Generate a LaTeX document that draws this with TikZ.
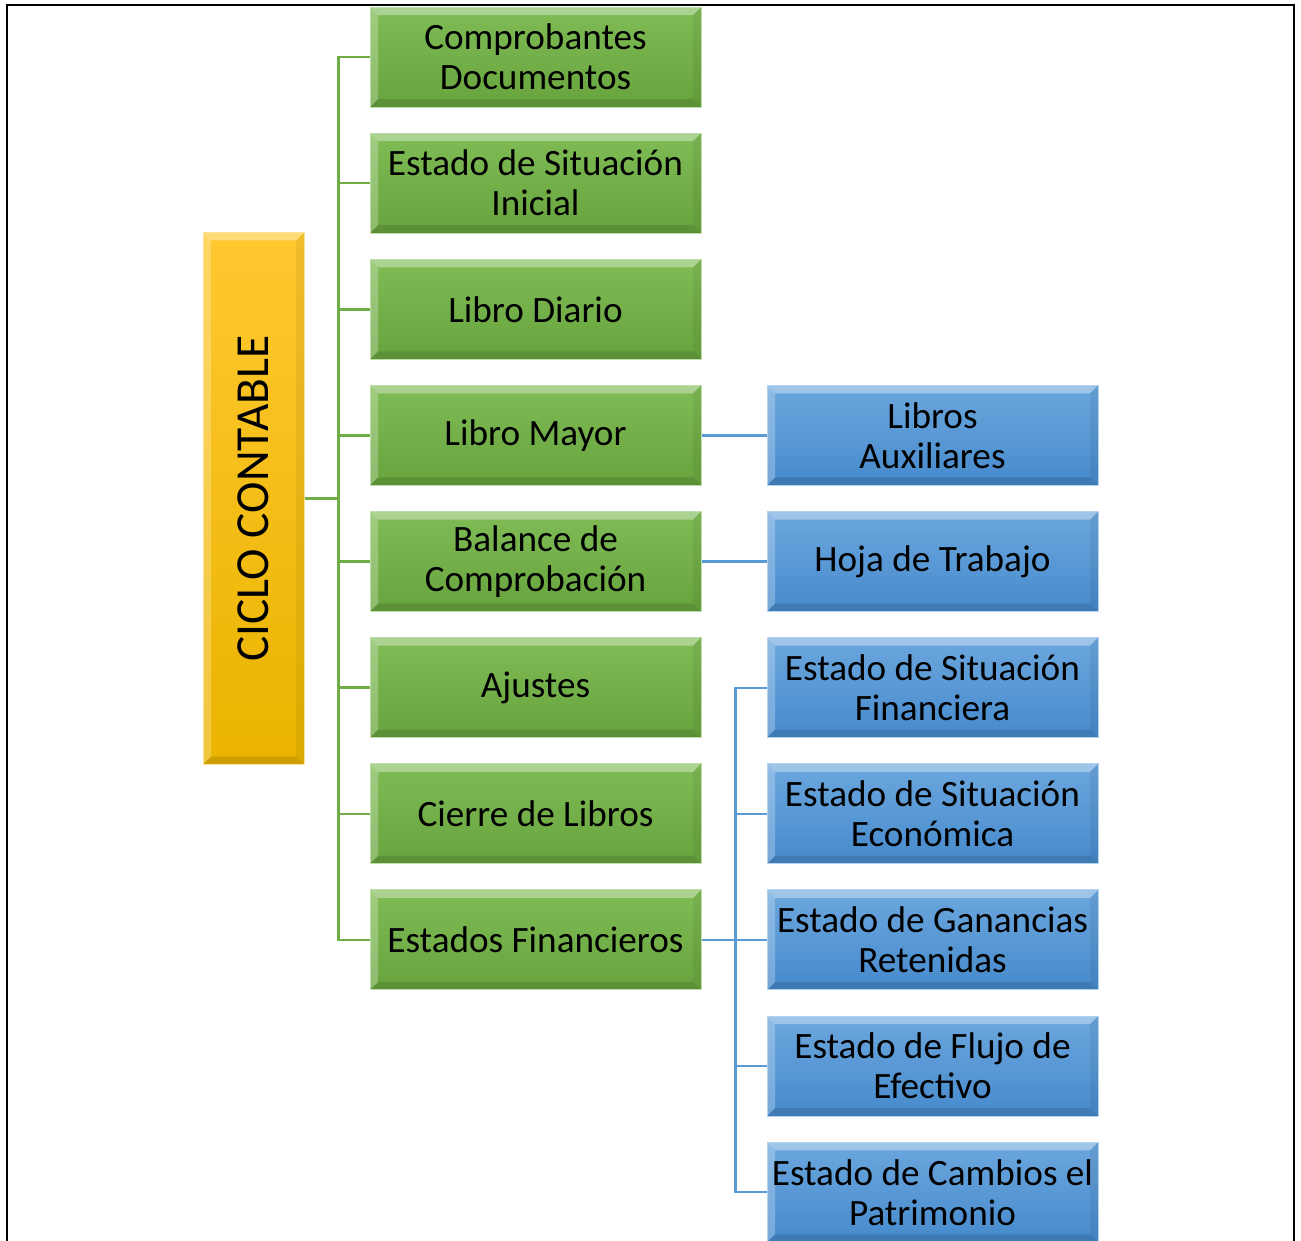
\documentclass[tikz,border=0pt]{standalone}
\usepackage{fontspec}
\setmainfont{Carlito}
\usepackage{xcolor}
\usepackage{tikz}

\definecolor{grtop}{RGB}{128,188,86}
\definecolor{grbot}{RGB}{104,164,62}
\definecolor{grline}{RGB}{112,173,71}
\definecolor{bltop}{RGB}{108,167,222}
\definecolor{blbot}{RGB}{70,138,204}
\definecolor{blline}{RGB}{91,155,213}
\definecolor{yetop}{RGB}{255,200,48}
\definecolor{yebot}{RGB}{234,180,0}

\tikzset{
  bevel/.style={path picture={
    \fill[white,opacity=.35] (path picture bounding box.north west) -- (path picture bounding box.north east)
      -- ([shift={(-4pt,-4pt)}]path picture bounding box.north east) -- ([shift={(4pt,-4pt)}]path picture bounding box.north west) -- cycle;
    \fill[white,opacity=.25] (path picture bounding box.north west) -- (path picture bounding box.south west)
      -- ([shift={(4pt,4pt)}]path picture bounding box.south west) -- ([shift={(4pt,-4pt)}]path picture bounding box.north west) -- cycle;
    \fill[black,opacity=.12] (path picture bounding box.south west) -- (path picture bounding box.south east)
      -- ([shift={(-4pt,4pt)}]path picture bounding box.south east) -- ([shift={(4pt,4pt)}]path picture bounding box.south west) -- cycle;
    \fill[black,opacity=.06] (path picture bounding box.north east) -- (path picture bounding box.south east)
      -- ([shift={(-4pt,4pt)}]path picture bounding box.south east) -- ([shift={(-4pt,-4pt)}]path picture bounding box.north east) -- cycle;
  }},
  box/.style={rectangle, bevel, minimum width=165.5pt, minimum height=50pt, inner sep=0pt,
    align=center, text=black, font=\fontsize{18.6}{20}\selectfont},
  grbox/.style={box, top color=grtop, bottom color=grbot, draw=grtop!50!white, line width=.5pt},
  blbox/.style={box, top color=bltop, bottom color=blbot, draw=bltop!50!white, line width=.5pt},
  rootbox/.style={rectangle, bevel, minimum width=50.5pt, minimum height=266pt, inner sep=0pt,
    top color=yetop, bottom color=yebot, draw=yetop!50!white, line width=.5pt,
    text=black, font=\fontsize{23.7}{25}\selectfont}
}

\begin{document}
\begin{tikzpicture}[
  x=0.5pt, y=0.5pt,
  grow'=right,
  edge from parent path={(\tikzparentnode.east) -- ++(17pt,0) |- (\tikzchildnode.west)},
  level 1/.style={level distance=141pt, sibling distance=63.07pt,
    edge from parent/.style={draw=grline, line width=1.25pt}},
  level 2/.style={level distance=198.5pt, sibling distance=63.07pt,
    edge from parent/.style={draw=blline, line width=1.1pt}}
  ]
  \useasboundingbox (0,0) rectangle (1301,-1241);
  \draw[line width=1.25pt] (7,-1245) |- (1294,-5) -- (1294,-1245);

  \node[rootbox] (ciclo) at (253.5,-498.5) {\rotatebox{90}{CICLO CONTABLE}}
    child {node[grbox] (comprobantes) {Comprobantes\\Documentos}}
    child {node[grbox] (inicial) {Estado de Situación\\Inicial}}
    child {node[grbox] (diario) {Libro Diario}}
    child {node[grbox] (mayor) {Libro Mayor}
      child {node[blbox] (auxiliares) {Libros\\Auxiliares}}
    }
    child {node[grbox] (balance) {Balance de\\Comprobación}
      child {node[blbox] (hoja) {Hoja de Trabajo}}
    }
    child {node[grbox] (ajustes) {Ajustes}}
    child {node[grbox] (cierre) {Cierre de Libros}}
    child {node[grbox] (estados) {Estados Financieros}
      child {node[blbox] (financiera) {Estado de Situación\\Financiera}}
      child {node[blbox] (economica) {Estado de Situación\\Económica}}
      child {node[blbox] (ganancias) {Estado de Ganancias\\Retenidas}}
      child {node[blbox] (flujo) {Estado de Flujo de\\Efectivo}}
      child {node[blbox] (cambios) {Estado de Cambios el\\Patrimonio}}
    };
\end{tikzpicture}
\end{document}
